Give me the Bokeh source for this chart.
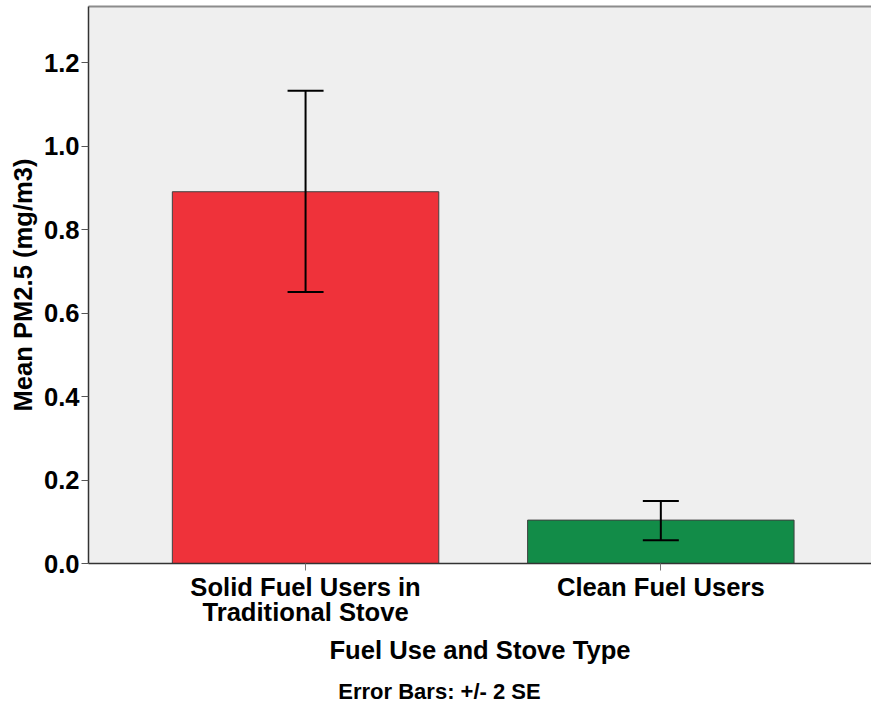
from bokeh.plotting import figure
from bokeh.models import (ColumnDataSource, Range1d, LinearAxis, FixedTicker,
                          Whisker, TeeHead, CustomJSTickFormatter)
from bokeh.embed import file_html
from bokeh.resources import INLINE

# Mean PM2.5 exposure by fuel / stove group, with +/- 2 SE limits
cat_line1 = ["Solid Fuel Users in", "Clean Fuel Users"]
cat_line2 = ["Traditional Stove", ""]
mean_pm25 = [0.891, 0.104]
lower_2se = [0.651, 0.056]
upper_2se = [1.133, 0.150]
bar_colors = ["#EF323A", "#128C48"]
y_ticks = [0.0, 0.2, 0.4, 0.6, 0.8, 1.0, 1.2]
footnote = "Error Bars: +/- 2 SE"

FONT = "Liberation Sans"
FS = "25.6px"

xpos = list(range(len(cat_line1)))
src = ColumnDataSource(dict(x=xpos, top=mean_pm25, lo=lower_2se, hi=upper_2se,
                            color=bar_colors))

p = figure(width=871, height=706, output_backend="svg", toolbar_location=None,
           x_range=Range1d(-0.611, 1.593), y_range=Range1d(0, 1.335),
           min_border_left=88, min_border_right=0, min_border_top=6,
           min_border_bottom=143)

p.background_fill_color = "#EFEFEF"
p.border_fill_color = "white"
p.outline_line_color = None
p.xgrid.visible = False
p.ygrid.visible = False

p.vbar(x="x", top="top", width=0.75, bottom=0, source=src, fill_color="color",
       line_color="#404040", line_width=1)

whisk = Whisker(base="x", lower="lo", upper="hi", source=src,
                line_color="black", line_width=2, level="overlay",
                upper_head=TeeHead(size=36, line_color="black", line_width=2),
                lower_head=TeeHead(size=36, line_color="black", line_width=2))
p.add_layout(whisk)


def style_text(ax, size=FS):
    ax.major_label_text_font = FONT
    ax.major_label_text_font_style = "bold"
    ax.major_label_text_font_size = size
    ax.major_label_text_color = "black"
    ax.axis_label_text_font = FONT
    ax.axis_label_text_font_style = "bold"
    ax.axis_label_text_font_size = size
    ax.axis_label_text_color = "black"
    ax.minor_tick_out = 0
    ax.minor_tick_in = 0
    ax.major_tick_in = 0


# y axis
ya = p.yaxis[0]
style_text(ya)
ya.ticker = FixedTicker(ticks=y_ticks)
ya.formatter = CustomJSTickFormatter(code="return tick.toFixed(1);")
ya.axis_label = "Mean PM2.5 (mg/m3)"
ya.axis_label_standoff = 4
ya.major_label_standoff = 2
ya.major_tick_out = 7
ya.axis_line_color = "#333333"
ya.axis_line_width = 1.5
ya.major_tick_line_color = "#555555"

# x axis: first line of each category name
xa = p.xaxis[0]
style_text(xa)
xa.ticker = FixedTicker(ticks=xpos)
xa.major_label_overrides = {i: t for i, t in zip(xpos, cat_line1)}
xa.major_label_standoff = 2
xa.major_tick_out = 7
xa.axis_line_color = "#333333"
xa.axis_line_width = 1.5
xa.major_tick_line_color = "#777777"

# second line of the category names, plus the axis title
xa2 = LinearAxis(ticker=FixedTicker(ticks=xpos))
style_text(xa2)
xa2.major_label_overrides = {i: (t if t else " ") for i, t in zip(xpos, cat_line2)}
xa2.major_label_standoff = -6
xa2.major_tick_out = 0
xa2.axis_line_color = None
xa2.major_tick_line_color = None
xa2.axis_label = "Fuel Use and Stove Type"
xa2.axis_label_standoff = 7
p.add_layout(xa2, "below")

# footnote row, centred under the whole chart
note_x = 0.377
xa3 = LinearAxis(ticker=FixedTicker(ticks=[note_x]))
style_text(xa3, "22px")
xa3.major_label_overrides = {note_x: footnote}
xa3.major_label_standoff = 12
xa3.major_tick_out = 0
xa3.axis_line_color = None
xa3.major_tick_line_color = None
p.add_layout(xa3, "below")

# thin grey rule along the top of the plotting area
top_axis = LinearAxis(ticker=FixedTicker(ticks=[]), major_tick_out=0,
                      major_tick_in=0, minor_tick_out=0, minor_tick_in=0,
                      major_label_text_font_size="0px",
                      axis_line_color="#8C8C8C", axis_line_width=2)
p.add_layout(top_axis, "above")

open("out.html", "w").write(file_html(p, INLINE))
